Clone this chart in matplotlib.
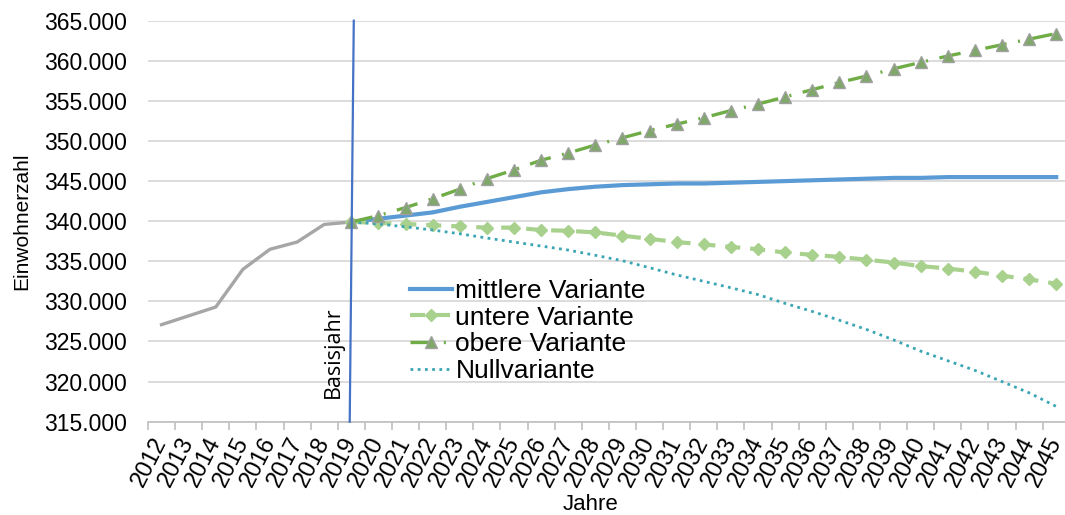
import matplotlib
matplotlib.use("Agg")
import matplotlib.pyplot as plt
from matplotlib.ticker import FuncFormatter

# Daten
jahre = list(range(2012, 2046))
hist_jahre = list(range(2012, 2020))
hist_werte = [327100, 328200, 329300, 334000, 336500, 337400, 339600, 339900]
prog_jahre = list(range(2019, 2046))
mittlere = [339900, 340300, 340700, 341100, 341800, 342400, 343000, 343600, 344000, 344300,
            344500, 344600, 344700, 344700, 344800, 344900, 345000, 345100, 345200, 345300,
            345400, 345400, 345500, 345500, 345500, 345500, 345500]
untere = [339900, 339800, 339650, 339500, 339350, 339200, 339200, 338900, 338800, 338600,
          338200, 337800, 337400, 337100, 336800, 336500, 336100, 335800, 335550, 335200,
          334850, 334400, 334100, 333700, 333200, 332750, 332200]
obere = [339900, 340700, 341700, 342800, 344000, 345300, 346400, 347600, 348500, 349500,
         350400, 351300, 352100, 352900, 353800, 354600, 355500, 356400, 357300, 358100,
         359000, 359800, 360600, 361300, 362000, 362700, 363400]
null = [339900, 339650, 339300, 338900, 338430, 337900, 337400, 336900, 336400, 335750,
        335070, 334200, 333300, 332500, 331700, 330850, 329750, 328750, 327650, 326500,
        325200, 323800, 322600, 321400, 320000, 318600, 316900]
basisjahr = 2019
y_min, y_max, y_step = 315000, 365000, 5000

plt.rcParams['font.family'] = ['Liberation Sans', 'DejaVu Sans']

fig = plt.figure(figsize=(10.65, 5.15), dpi=100)
ax = fig.add_axes([148 / 1065, 93.3 / 515, 921.8 / 1065, 401 / 515])

idx = {j: i for i, j in enumerate(jahre)}
hx = [idx[j] for j in hist_jahre]
px = [idx[j] for j in prog_jahre]

ax.plot(hx, hist_werte, color='#A6A6A6', lw=2.4, zorder=3)
ax.plot(px, mittlere, color='#5B9BD5', lw=3.0, label='mittlere Variante', zorder=4)
ax.plot(px, untere, color='#A9D18E', lw=3.0, ls=(0, (3.6, 2.4)), marker='D', ms=6,
        mfc='#A9D18E', mec='#A9D18E', label='untere Variante', zorder=4)
ax.plot(px, obere, color='#70AD47', lw=2.4, ls=(0, (6.5, 3.5, 0.6, 3.5)), marker='^', ms=8,
        mfc='#7FA86A', mec='#A0A0A0', mew=1.0, label='obere Variante', zorder=5)
ax.plot(px, null, color='#3AA6B4', lw=2.0, ls=(0, (1, 1.6)), label='Nullvariante', zorder=4)

# Basisjahr-Linie
bx = idx[basisjahr]
ax.plot([bx + 0.09, bx - 0.06], [y_max, y_min], color='#4472C4', lw=1.6, zorder=6, clip_on=False)
ax.text(bx - 0.66, 318000, 'Basisjahr', rotation=90, ha='center', va='bottom',
        fontsize=15.5, family=['Open Sans', 'DejaVu Sans'], color='#000000')

ax.set_xlim(-0.5, len(jahre) - 0.5)
ax.set_ylim(y_min, y_max)
ax.set_yticks(range(y_min, y_max + 1, y_step))
ax.yaxis.set_major_formatter(FuncFormatter(lambda v, p: f'{int(v):,}'.replace(',', '.')))
ax.grid(axis='y', color='#D9D9D9', lw=1.3)
ax.set_axisbelow(True)

ax.set_xticks(range(len(jahre)))
ax.set_xticklabels([str(j) for j in jahre], rotation=63, ha='right', va='center',
                   rotation_mode='anchor', fontsize=17)
ax.set_xticks([i - 0.5 for i in range(len(jahre) + 1)], minor=True)
ax.tick_params(axis='x', which='major', length=0, pad=12)
ax.tick_params(axis='x', which='minor', length=6, color='#BFBFBF', width=1.2)
ax.tick_params(axis='y', length=0, pad=15, labelsize=16.5)

for s in ['top', 'right', 'left']:
    ax.spines[s].set_visible(False)
ax.spines['bottom'].set_color('#BFBFBF')
ax.spines['bottom'].set_linewidth(1.2)

fig.text(22 / 1065, 1 - 221 / 515, 'Einwohnerzahl', rotation=90, ha='center', va='center', fontsize=15)
fig.text(591 / 1065, 1 - 505 / 515, 'Jahre', ha='center', va='center', fontsize=16)

leg = ax.legend(loc='upper left', bbox_to_anchor=(410 / 1065, 1 - 279 / 515),
                bbox_transform=fig.transFigure, frameon=False, fontsize=19,
                handlelength=1.6, handletextpad=0.12, labelspacing=0.1,
                borderpad=0, borderaxespad=0)

fig.savefig('out.png', dpi=100)
